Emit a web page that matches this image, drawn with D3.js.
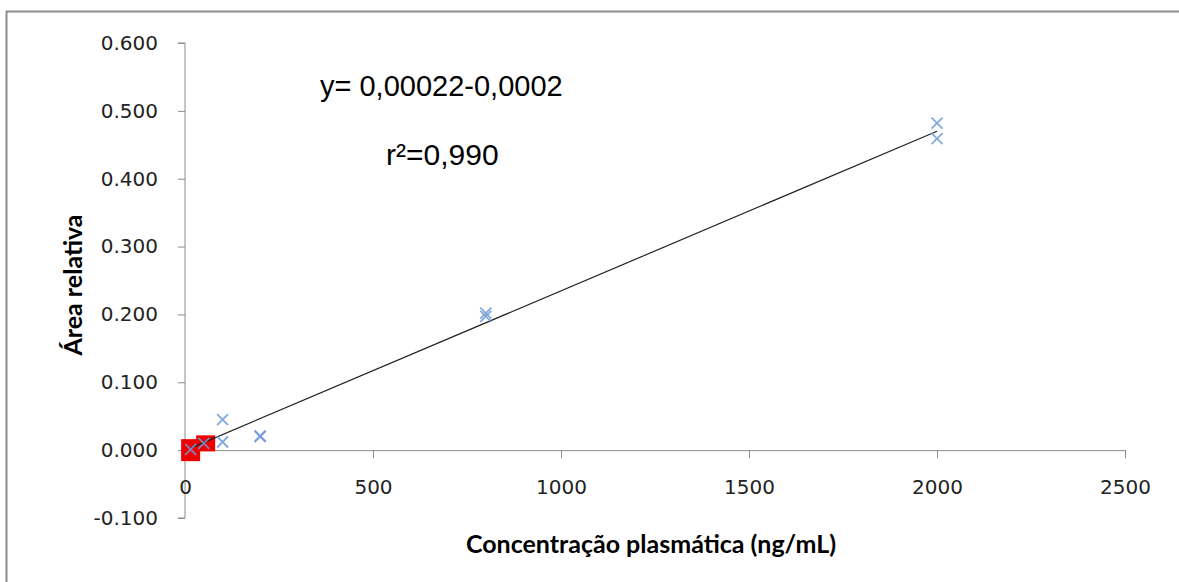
<!DOCTYPE html>
<html>
<head>
<meta charset="utf-8">
<script src="https://cdn.jsdelivr.net/npm/d3@7"></script>
<style>
  html, body { margin: 0; padding: 0; background: #fff; }
  svg { display: block; }
</style>
</head>
<body>
<script>
// Calibration data: plasma concentration (ng/mL) vs relative area
const concentrations = [15, 50, 100, 100, 200, 200, 800, 800, 2000, 2000];
const relativeAreas  = [0.001, 0.010, 0.045, 0.012, 0.020, 0.021, 0.202, 0.197, 0.482, 0.459];

// Low-level points highlighted with square markers
const highlightX = [15, 55];
const highlightY = [0.000, 0.010];

// Linear trend line endpoints
const trendX = [15, 2000];
const trendY = [0.003, 0.470];

const xTicks = [0, 500, 1000, 1500, 2000, 2500];
const yTicks = [-0.1, 0, 0.1, 0.2, 0.3, 0.4, 0.5, 0.6];

const equationText = "y= 0,00022-0,0002";
const r2Text = "r²=0,990";
const xTitle = "Concentração plasmática (ng/mL)";
const yTitle = "Área relativa";

const W = 1179, H = 582;
const svg = d3.select("body").append("svg").attr("width", W).attr("height", H);

// chart frame (only top and left edges fall inside the view)
svg.append("rect")
  .attr("x", 6.5).attr("y", 11.5)
  .attr("width", 1200).attr("height", 600)
  .attr("fill", "#fff").attr("stroke", "#8c8c8c").attr("stroke-width", 2);

const x = d3.scaleLinear().domain([0, 2500]).range([185, 1125]);
const y = d3.scaleLinear().domain([-0.1, 0.6]).range([518, 43]);

const axisColor = "#8c8c8c";
const tickFont = "DejaVu Sans, Verdana, sans-serif";
const fmtY = v => d3.format(".3f")(v).replace("\u2212", "-");

// y axis
const yAxis = d3.axisLeft(y).tickValues(yTicks).tickFormat(fmtY).tickSize(7).tickPadding(20);
const gy = svg.append("g").attr("transform", `translate(${x(0)},0)`).call(yAxis);
gy.select(".domain").attr("stroke", axisColor).attr("d", `M-7,${y(0.6)}H0V${y(-0.1)}H-7`);
gy.selectAll(".tick line").attr("stroke", axisColor);
gy.selectAll(".tick text").attr("font-family", tickFont).attr("font-size", 20).attr("fill", "#222");

// x axis along zero
const xAxis = d3.axisBottom(x).tickValues(xTicks).tickFormat(d3.format("d")).tickSize(8).tickPadding(22);
const gx = svg.append("g").attr("transform", `translate(0,${y(0)})`).call(xAxis);
gx.select(".domain").attr("stroke", axisColor);
gx.selectAll(".tick line").attr("stroke", axisColor);
gx.selectAll(".tick text").attr("font-family", tickFont).attr("font-size", 20).attr("fill", "#222");

// highlighted squares (drawn back to front so the first point sits on top)
const sqW = 19, sqH = [22, 16];
svg.append("g").selectAll("rect")
  .data(highlightX.map((v, i) => ({ cx: v, cy: highlightY[i], h: sqH[i] })).reverse())
  .join("rect")
  .attr("x", d => x(d.cx) - sqW / 2)
  .attr("y", d => y(d.cy) - d.h / 2)
  .attr("width", sqW).attr("height", d => d.h)
  .attr("fill", "#ee0000");

// trend line
svg.append("line")
  .attr("x1", x(trendX[0])).attr("y1", y(trendY[0]))
  .attr("x2", x(trendX[1])).attr("y2", y(trendY[1]))
  .attr("stroke", "#222").attr("stroke-width", 1.2);

// cross markers
const cs = 5.5;
svg.append("g").selectAll("path")
  .data(concentrations.map((v, i) => [v, relativeAreas[i]]))
  .join("path")
  .attr("d", d => {
    const cx = x(d[0]), cy = y(d[1]);
    return `M${cx - cs},${cy - cs}L${cx + cs},${cy + cs}M${cx - cs},${cy + cs}L${cx + cs},${cy - cs}`;
  })
  .attr("stroke", "#6f9ad6").attr("stroke-width", 1.8).attr("fill", "none").attr("stroke-opacity", 0.85);

// annotations
const annFont = "Liberation Sans, Arial, sans-serif";
svg.append("text").attr("x", 320).attr("y", 96)
  .attr("font-family", annFont).attr("font-size", 29).attr("fill", "#000").text(equationText);
svg.append("text").attr("x", 386).attr("y", 165)
  .attr("font-family", annFont).attr("font-size", 30).attr("fill", "#000").text(r2Text);

// axis titles
const titleFont = "Lato, Open Sans, sans-serif";
svg.append("text").attr("x", 651).attr("y", 553).attr("text-anchor", "middle")
  .attr("font-family", titleFont).attr("font-weight", "bold").attr("font-size", 25)
  .attr("fill", "#000").text(xTitle);
svg.append("text").attr("transform", `translate(82,285) rotate(-90)`).attr("text-anchor", "middle")
  .attr("font-family", titleFont).attr("font-weight", "bold").attr("font-size", 25)
  .attr("fill", "#000").text(yTitle);
</script>
</body>
</html>
